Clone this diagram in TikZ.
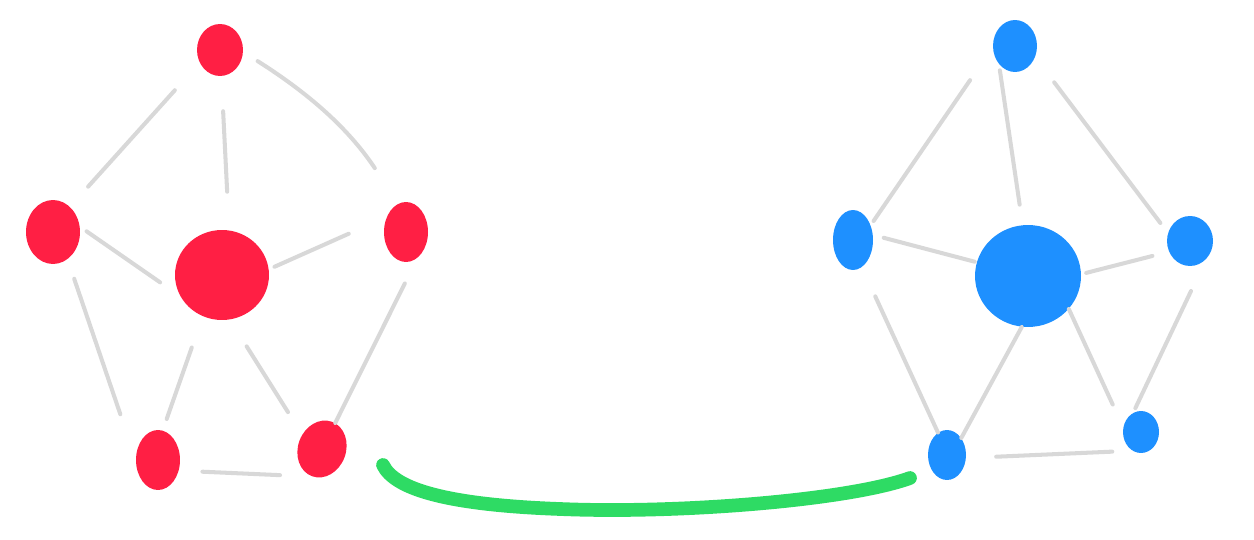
\documentclass[tikz,border=0pt]{standalone}
\usepackage{tikz}
\usetikzlibrary{shapes.geometric}
\definecolor{netred}{RGB}{255,31,68}
\definecolor{netblue}{RGB}{30,144,255}
\definecolor{netgreen}{RGB}{46,219,100}
\definecolor{netgray}{RGB}{216,216,216}
\begin{document}
\begin{tikzpicture}[x=0.02cm, y=-0.02cm,
  rdot/.style={ellipse, fill=netred, inner sep=0pt},
  bdot/.style={ellipse, fill=netblue, inner sep=0pt},
  link/.style={netgray, line width=2.3pt, line cap=round},
  bridge/.style={netgreen, line width=7.8pt, line cap=round}]
\useasboundingbox (0,0) rectangle (1254,540);
% Red wheel
\node[rdot, minimum width=0.92cm, minimum height=1.04cm] (rtop) at (220,50) {};
\node[rdot, minimum width=1.08cm, minimum height=1.28cm] (rleft) at (53,232) {};
\node[rdot, minimum width=0.88cm, minimum height=1.2cm] (rright) at (406,232) {};
\node[rdot, minimum width=1.88cm, minimum height=1.8cm] (rhub) at (222,275) {};
\node[rdot, minimum width=0.88cm, minimum height=1.2cm] (rbl) at (158,460) {};
\node[rdot, minimum width=0.96cm, minimum height=1.16cm, rotate=-20] (rbr) at (322,449) {};
\draw[link, shorten <=7.4mm, shorten >=5.4mm] (rtop.212) -- (rleft.56);
\draw[link, shorten <=7mm, shorten >=7.7mm] (rtop.-87) -- (rhub.81);
\draw[link, shorten <=3.4mm, shorten >=8.5mm] (rtop.-5) to[bend left=12] (rright.105);
\draw[link, shorten <=1.6mm, shorten >=4.9mm] (rleft.11) -- (rhub.207);
\draw[link, shorten <=1.2mm, shorten >=8.3mm] (rhub.7) -- (rright.142);
\draw[link, shorten <=4.1mm, shorten >=9.5mm] (rleft.-62) -- (rbl.178);
\draw[link, shorten <=6.6mm, shorten >=2.4mm] (rhub.245) -- (rbl.81);
\draw[link, shorten <=6.3mm, shorten >=5.3mm] (rhub.-80) -- (rbr.164);
\draw[link, shorten <=5.7mm] (rright.-66) -- (rbr.83);
\draw[link, shorten <=4.7mm, shorten >=6.4mm] (rbl.-27) -- (rbr.270);
% Blue wheel
\node[bdot, minimum width=0.88cm, minimum height=1.04cm] (btop) at (1015,46) {};
\node[bdot, minimum width=0.8cm, minimum height=1.2cm] (bleft) at (853,240) {};
\node[bdot, minimum width=0.92cm, minimum height=1cm] (bright) at (1190,241) {};
\node[bdot, minimum width=2.12cm, minimum height=2.04cm] (bhub) at (1028,276) {};
\node[bdot, minimum width=0.76cm, minimum height=1cm] (bbl) at (947,455) {};
\node[bdot, minimum width=0.72cm, minimum height=0.84cm] (bbr) at (1141,432) {};
\draw[link, shorten <=8mm, shorten >=1mm] (btop.183) -- (bleft.40);
\draw[link, shorten <=1.2mm, shorten >=4.1mm] (btop.229) -- (bhub.96);
\draw[link, shorten <=6.3mm, shorten >=2.5mm] (btop.-29) -- (bright.160);
\draw[link, shorten <=2.2mm, shorten >=0.4mm] (bleft.14) -- (bhub.165);
\draw[link, shorten <=1mm, shorten >=3.4mm] (bhub.2) -- (bright.207);
\draw[link, shorten <=6.4mm] (bleft.-72) -- (bbl.112);
\draw[link] (bhub.263) -- (bbl.50);
\draw[link, shorten >=5mm] (bhub.-39) -- (bbr.165);
\draw[link, shorten <=7mm, shorten >=1mm] (bright.-49) -- (bbr.112);
\draw[link, shorten <=6mm, shorten >=4mm] (bbl.-9) -- (bbr.245);
% Green bridge
\coordinate (linkA) at (383,465);
\coordinate (linkB) at (910,478);
\draw[bridge] (linkA) .. controls (395,490) and (450,505) .. (560,509)
  .. controls (680,514) and (850,500) .. (linkB);
\end{tikzpicture}
\end{document}
